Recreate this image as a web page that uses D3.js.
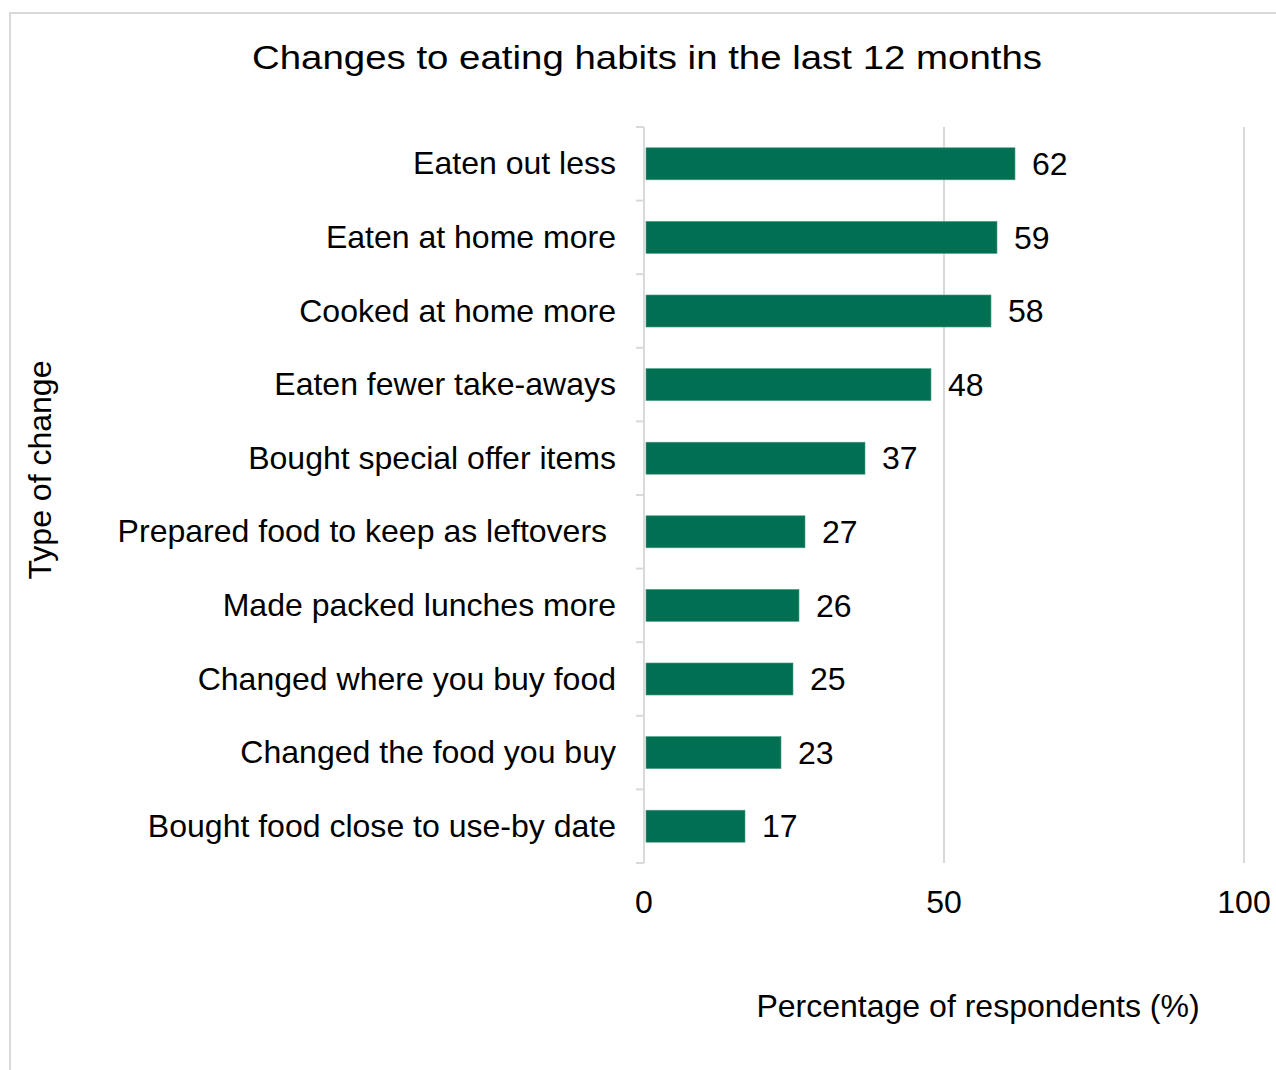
<!DOCTYPE html>
<html>
<head>
<meta charset="utf-8">
<script src="https://cdn.jsdelivr.net/npm/d3@7"></script>
<style>
  html, body { margin: 0; padding: 0; background: #fff; }
  svg { display: block; }
  text { font-family: "Liberation Sans", Arial, sans-serif; fill: #000; }
</style>
</head>
<body>
<svg id="chart" width="1276" height="1070"></svg>
<script>
// Survey responses: share of respondents reporting each change
const categories = [
  "Eaten out less",
  "Eaten at home more",
  "Cooked at home more",
  "Eaten fewer take-aways",
  "Bought special offer items",
  "Prepared food to keep as leftovers ",
  "Made packed lunches more",
  "Changed where you buy food",
  "Changed the food you buy",
  "Bought food close to use-by date"
];
const values = [62, 59, 58, 48, 37, 27, 26, 25, 23, 17];
const xTicks = [0, 50, 100];

const title = "Changes to eating habits in the last 12 months";
const xTitle = "Percentage of respondents (%)";
const yTitle = "Type of change";

const FONT = 30.5;      // body text size
const STRETCH = 1.05;   // slightly wide glyphs

const svg = d3.select("#chart");

// places a text node at (x, y) with a horizontal glyph stretch
function placeText(sel, xf, yf, s, extra) {
  sel.attr("transform", (d, i) =>
    `translate(${xf(d, i)},${yf(d, i)})${extra || ""} scale(${s},1)`);
}

// outer frame (open at right and bottom edges)
svg.append("rect")
  .attr("x", 10).attr("y", 13)
  .attr("width", 1300).attr("height", 1100)
  .attr("fill", "none")
  .attr("stroke", "#d9d9d9")
  .attr("stroke-width", 2);

const plot = { left: 644, right: 1244, top: 127, bottom: 863 };

const x = d3.scaleLinear().domain([0, 100]).range([plot.left, plot.right]);
const y = d3.scaleBand().domain(categories).range([plot.top, plot.bottom])
  .paddingInner(0.565).paddingOuter(0.2825);

// vertical gridlines
svg.append("g")
  .selectAll("line")
  .data(xTicks.filter(d => d > 0))
  .join("line")
  .attr("x1", d => x(d)).attr("x2", d => x(d))
  .attr("y1", plot.top).attr("y2", plot.bottom)
  .attr("stroke", "#d9d9d9")
  .attr("stroke-width", 2);

// category axis with boundary ticks
const bandStep = (plot.bottom - plot.top) / categories.length;
const yAxisG = svg.append("g");
yAxisG.append("line")
  .attr("x1", plot.left).attr("x2", plot.left)
  .attr("y1", plot.top).attr("y2", plot.bottom)
  .attr("stroke", "#d9d9d9").attr("stroke-width", 2);
yAxisG.selectAll("line.tick")
  .data(d3.range(categories.length + 1))
  .join("line")
  .attr("class", "tick")
  .attr("x1", plot.left - 8).attr("x2", plot.left)
  .attr("y1", i => plot.top + i * bandStep)
  .attr("y2", i => plot.top + i * bandStep)
  .attr("stroke", "#d9d9d9").attr("stroke-width", 2);

// category labels
svg.append("g")
  .selectAll("text")
  .data(categories)
  .join("text")
  .attr("dy", "0.35em")
  .attr("text-anchor", "end")
  .attr("font-size", FONT)
  .attr("xml:space", "preserve")
  .style("white-space", "pre")
  .text(d => d)
  .call(placeText, () => plot.left - 28, d => y(d) + y.bandwidth() / 2, STRETCH);

// bars
svg.append("g")
  .selectAll("rect")
  .data(values)
  .join("rect")
  .attr("x", x(0) + 2)
  .attr("y", (d, i) => y(categories[i]))
  .attr("width", d => x(d) - x(0) - 3)
  .attr("height", y.bandwidth())
  .attr("fill", "#006f52")
  .attr("stroke", "#4f9a85")
  .attr("stroke-width", 0.6);

// value labels
svg.append("g")
  .selectAll("text")
  .data(values)
  .join("text")
  .attr("dy", "0.37em")
  .attr("font-size", FONT)
  .text(d => d)
  .call(placeText, d => x(d) + 16, (d, i) => y(categories[i]) + y.bandwidth() / 2, STRETCH);

// x tick labels
svg.append("g")
  .selectAll("text")
  .data(xTicks)
  .join("text")
  .attr("text-anchor", "middle")
  .attr("font-size", FONT)
  .text(d => d)
  .call(placeText, d => x(d), () => 913, STRETCH);

// titles
svg.append("text")
  .datum(title)
  .attr("text-anchor", "middle")
  .attr("font-size", 34)
  .text(d => d)
  .call(placeText, () => 647, () => 69, 1.13);

svg.append("text")
  .datum(xTitle)
  .attr("text-anchor", "middle")
  .attr("font-size", FONT)
  .text(d => d)
  .call(placeText, () => 978, () => 1017, STRETCH);

svg.append("text")
  .datum(yTitle)
  .attr("text-anchor", "middle")
  .attr("font-size", FONT)
  .text(d => d)
  .call(placeText, () => 51, () => 470, STRETCH, " rotate(-90)");
</script>
</body>
</html>
